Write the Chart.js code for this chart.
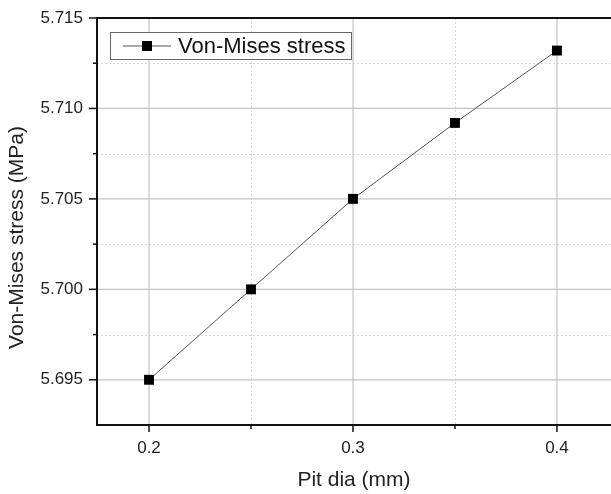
<!DOCTYPE html>
<html>
<head>
<meta charset="utf-8">
<script src="https://cdn.jsdelivr.net/npm/chart.js@4"></script>
<style>
  html, body { margin: 0; padding: 0; background: #fff; overflow: hidden; }
  #wrap { width: 611px; height: 494px; }
</style>
</head>
<body>
<div id="wrap"><canvas id="stressChart"></canvas></div>
<script>
// data
const pitDia = [0.2, 0.25, 0.3, 0.35, 0.4];
const vonMises = [5.695, 5.700, 5.705, 5.7092, 5.7132];
const seriesLabel = 'Von-Mises stress';
const yTitle = 'Von-Mises stress (MPa)';

// axis ticks
const xMajorTicks = [0.2, 0.3, 0.4];
const xMinorTicks = [0.25, 0.35];
const yMajorTicks = [5.695, 5.700, 5.705, 5.710, 5.715];
const yMinorTicks = [5.6975, 5.7025, 5.7075, 5.7125];

const FONT = "'Liberation Sans', Arial, sans-serif";

// Origin-style grid, tick marks, top frame, y title and inset legend
const originFrame = {
    id: 'originFrame',
    beforeDatasetsDraw(chart) {
        const ctx = chart.ctx;
        const area = chart.chartArea;
        const x = chart.scales.x, y = chart.scales.y;
        ctx.save();
        // minor grid (dotted)
        ctx.strokeStyle = '#d9d9d9';
        ctx.lineWidth = 1;
        ctx.setLineDash([2, 2]);
        xMinorTicks.forEach(v => {
            const px = Math.round(x.getPixelForValue(v)) + 0.5;
            ctx.beginPath(); ctx.moveTo(px, area.top); ctx.lineTo(px, area.bottom); ctx.stroke();
        });
        yMinorTicks.forEach(v => {
            const py = Math.round(y.getPixelForValue(v)) + 0.5;
            ctx.beginPath(); ctx.moveTo(area.left, py); ctx.lineTo(area.right, py); ctx.stroke();
        });
        // major grid (solid)
        ctx.setLineDash([]);
        ctx.strokeStyle = '#c4c4c4';
        ctx.lineWidth = 1.2;
        xMajorTicks.forEach(v => {
            const px = x.getPixelForValue(v);
            ctx.beginPath(); ctx.moveTo(px, area.top); ctx.lineTo(px, area.bottom); ctx.stroke();
        });
        yMajorTicks.forEach(v => {
            const py = y.getPixelForValue(v);
            ctx.beginPath(); ctx.moveTo(area.left, py); ctx.lineTo(area.right, py); ctx.stroke();
        });
        ctx.restore();
    },
    afterDraw(chart) {
        const ctx = chart.ctx;
        const area = chart.chartArea;
        const x = chart.scales.x, y = chart.scales.y;
        ctx.save();
        ctx.strokeStyle = '#111';
        ctx.lineWidth = 2;
        // frame: left, bottom, top
        ctx.beginPath();
        ctx.moveTo(area.right, area.top);
        ctx.lineTo(area.left, area.top);
        ctx.lineTo(area.left, area.bottom);
        ctx.lineTo(area.right, area.bottom);
        ctx.stroke();
        // tick marks (outward)
        ctx.lineWidth = 1.5;
        const tick = (x1, y1, x2, y2) => { ctx.beginPath(); ctx.moveTo(x1, y1); ctx.lineTo(x2, y2); ctx.stroke(); };
        xMajorTicks.forEach(v => { const px = x.getPixelForValue(v); tick(px, area.bottom, px, area.bottom + 7); });
        xMinorTicks.forEach(v => { const px = x.getPixelForValue(v); tick(px, area.bottom, px, area.bottom + 4); });
        yMajorTicks.forEach(v => { const py = y.getPixelForValue(v); tick(area.left, py, area.left - 8, py); });
        yMinorTicks.forEach(v => { const py = y.getPixelForValue(v); tick(area.left, py, area.left - 4, py); });

        // y axis title (sits a bit below the axis middle in the original)
        ctx.save();
        ctx.translate(23, (area.top + area.bottom) / 2 + 16);
        ctx.rotate(-Math.PI / 2);
        ctx.font = '21px ' + FONT;
        ctx.fillStyle = '#222';
        ctx.textAlign = 'center';
        ctx.textBaseline = 'alphabetic';
        ctx.fillText(yTitle, 0, 0);
        ctx.restore();

        // legend box
        const lx = area.left + 13, ly = area.top + 14, lw = 241, lh = 27;
        ctx.fillStyle = '#fff';
        ctx.fillRect(lx, ly, lw, lh);
        ctx.strokeStyle = '#666';
        ctx.lineWidth = 1;
        ctx.strokeRect(lx + 0.5, ly + 0.5, lw, lh);
        const my = ly + lh / 2 + 0.5;
        ctx.strokeStyle = '#555';
        ctx.beginPath(); ctx.moveTo(lx + 13, my); ctx.lineTo(lx + 61, my); ctx.stroke();
        ctx.fillStyle = '#000';
        ctx.fillRect(lx + 37 - 5, my - 5, 10, 10);
        ctx.font = '22px ' + FONT;
        ctx.textBaseline = 'middle';
        ctx.textAlign = 'left';
        ctx.fillStyle = '#111';
        ctx.fillText(chart.data.datasets[0].label, lx + 68, my + 1);
        ctx.restore();
    }
};

new Chart(document.getElementById('stressChart'), {
    type: 'line',
    data: {
        datasets: [{
            label: seriesLabel,
            data: pitDia.map((v, i) => ({ x: v, y: vonMises[i] })),
            borderColor: '#555',
            borderWidth: 1,
            backgroundColor: '#000',
            pointStyle: 'rect',
            pointRadius: 7,
            pointBorderWidth: 0,
            pointHoverRadius: 7,
            tension: 0,
            clip: false
        }]
    },
    options: {
        responsive: true,
        maintainAspectRatio: false,
        animation: false,
        layout: { autoPadding: false, padding: { top: 18, right: 0, bottom: 0, left: 0 } },
        plugins: {
            legend: { display: false },
            tooltip: { enabled: false }
        },
        scales: {
            x: {
                type: 'linear',
                min: 0.1745,
                max: 0.4265,
                afterBuildTicks: s => { s.ticks = xMajorTicks.map(v => ({ value: v })); },
                afterFit: s => { s.height = 69; s.paddingLeft = 0; s.paddingRight = 0; },
                grid: { display: false, drawTicks: false },
                border: { display: false },
                ticks: {
                    color: '#222',
                    padding: 13,
                    maxRotation: 0,
                    font: { family: FONT, size: 17 },
                    callback: v => v.toFixed(1)
                },
                title: {
                    display: true,
                    text: 'Pit dia (mm)',
                    color: '#222',
                    font: { family: FONT, size: 21 },
                    padding: { top: 0, bottom: 1 }
                }
            },
            y: {
                type: 'linear',
                min: 5.6925,
                max: 5.715,
                afterBuildTicks: s => { s.ticks = yMajorTicks.map(v => ({ value: v })); },
                afterFit: s => { s.width = 97; s.paddingTop = 0; s.paddingBottom = 0; },
                grid: { display: false, drawTicks: false },
                border: { display: false },
                ticks: {
                    color: '#222',
                    padding: 14,
                    font: { family: FONT, size: 17 },
                    callback: v => v.toFixed(3)
                },
                title: { display: false }
            }
        }
    },
    plugins: [originFrame]
});
</script>
</body>
</html>
